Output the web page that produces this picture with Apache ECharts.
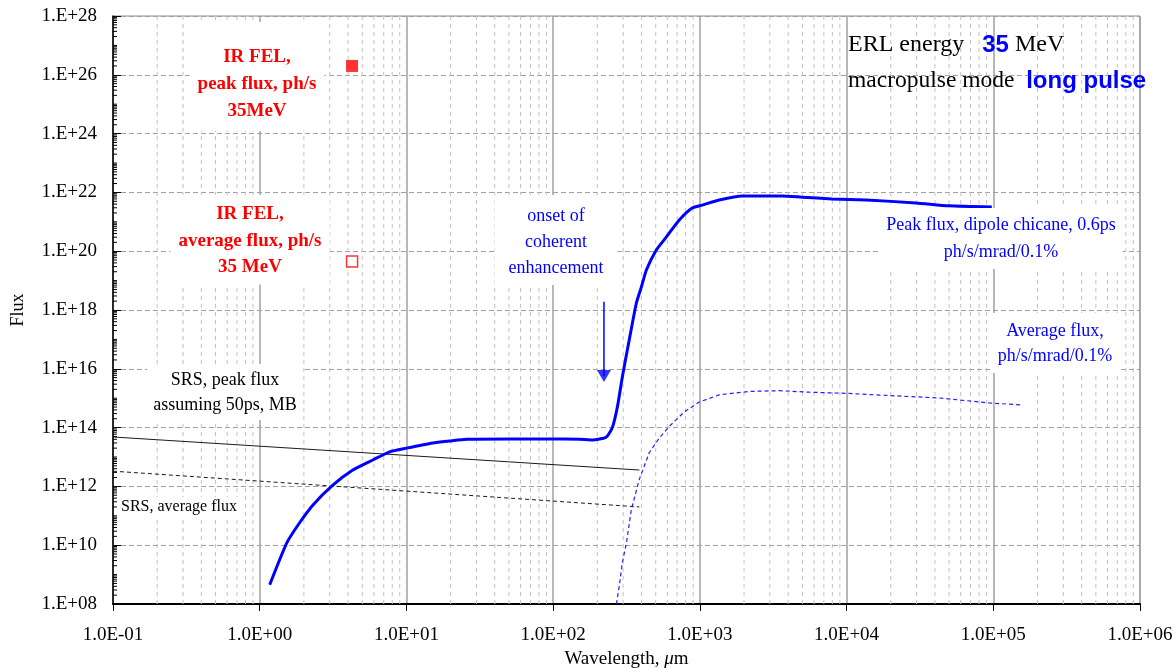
<!DOCTYPE html>
<html>
<head>
<meta charset="utf-8">
<title>ERL flux vs wavelength</title>
<script src="https://cdn.jsdelivr.net/npm/echarts@6/dist/echarts.min.js"></script>
<style>
  html, body { margin: 0; padding: 0; background: #fff; }
  #chart { width: 1176px; height: 668px; }
</style>
</head>
<body>
<div id="chart"></div>
<script>
// wavelength in um, flux in ph/s/mrad/0.1%
let peakWave = [1.17, 1.53, 1.87, 2.30, 3.15, 4.31, 5.89, 7.69, 10.0, 15.1, 19.7, 25.7, 50, 94, 151, 185,
    231, 254, 274, 296, 330, 369, 399, 432, 505, 590, 724, 887, 1038, 1355, 1945, 3640, 4980, 7960,
    13600, 29700, 49900, 97700];
let peakFlux = [4.5e8, 1.2e10, 5.8e10, 2.3e11, 1.1e12, 3.6e12, 7.9e12, 1.5e13, 2.0e13, 3.0e13, 3.5e13, 4.0e13,
    4.1e13, 4.1e13, 4.0e13, 3.8e13, 4.8e13, 1.05e14, 5.0e14, 5.2e15, 9.5e16, 1.7e18, 6.0e18, 2.3e19, 1.1e20,
    3.0e20, 1.15e21, 2.95e21, 3.7e21, 5.5e21, 7.6e21, 7.6e21, 6.9e21, 6.0e21, 5.5e21, 4.4e21, 3.5e21, 3.2e21];

let avgWave = [270, 283, 296, 316, 341, 386, 452, 530, 619, 783, 991, 1355, 2170, 3470, 5560, 10400,
    19500, 42700, 93300, 154000];
let avgFlux = [1.0e8, 4.5e8, 2.5e9, 1.2e10, 1.6e11, 1.7e12, 1.4e13, 4.5e13, 1.1e14, 3.4e14, 7.4e14, 1.3e15,
    1.7e15, 1.8e15, 1.6e15, 1.45e15, 1.23e15, 1.02e15, 6.9e14, 5.9e14];

let srsPeakWave = [0.1, 387];
let srsPeakFlux = [4.8e13, 3.6e12];
let srsAvgWave = [0.1, 387];
let srsAvgFlux = [3.3e12, 2.0e11];

let felWave = [4.26];
let felPeakFlux = [2.0e26];
let felAvgFlux = [4.5e19];

let arrowWave = [222, 222];
let arrowFlux = [1.9e18, 5.7e15];

// axis ticks, as powers of ten
let xTicks = [-1, 0, 1, 2, 3, 4, 5, 6];
let xTickLabels = ['1.0E-01', '1.0E+00', '1.0E+01', '1.0E+02', '1.0E+03', '1.0E+04', '1.0E+05', '1.0E+06'];
let yTicks = [8, 10, 12, 14, 16, 18, 20, 22, 24, 26, 28];
let yTickLabels = ['1.E+08', '1.E+10', '1.E+12', '1.E+14', '1.E+16', '1.E+18', '1.E+20', '1.E+22',
    '1.E+24', '1.E+26', '1.E+28'];

const SERIF = '"Liberation Serif", "Times New Roman", serif';
const SANS = '"Liberation Sans", Arial, sans-serif';
const BLUE = '#0000ff';
const RED = '#ff0000';

let lg = Math.log10;
let pairs = (xs, ys) => xs.map((x, i) => [lg(x), lg(ys[i])]);

// log minor positions for the grid lines / ticks
let minorX = [];
for (let d = -1; d < 6; d++) {
    for (let m = 2; m <= 9; m++) minorX.push([d + lg(m), 8]);
}
let minorY = [];
for (let d = 8; d < 28; d++) {
    for (let m = 1; m <= 9; m++) {
        if (m === 1 && d % 2 === 0) continue;
        minorY.push([-1, d + lg(m)]);
    }
}

let chart = echarts.init(document.getElementById('chart'));

let textBox = (x, y, text, color, font, lineHeight, padding, extra) => ({
    type: 'text', x: x, y: y, z: 100, silent: true,
    style: Object.assign({
        text: text, fill: color, font: font, align: 'center', verticalAlign: 'top',
        lineHeight: lineHeight, backgroundColor: '#fff', padding: padding
    }, extra || {})
});

let option = {
    animation: false,
    grid: {
        left: 113, right: 36, top: 16, bottom: 64,
        outerBoundsMode: 'none', containLabel: false,
        show: true, borderColor: '#8c8c8c', borderWidth: 1
    },
    xAxis: {
        type: 'value', min: -1, max: 6, interval: 1,
        name: 'Wavelength, {i|μ}m', nameLocation: 'middle', nameGap: 44,
        nameTextStyle: {
            color: '#000', fontFamily: SERIF, fontSize: 19,
            rich: { i: { fontStyle: 'italic', fontFamily: SERIF, fontSize: 19, color: '#000' } }
        },
        axisLine: { show: true, onZero: false, lineStyle: { color: '#000', width: 2 } },
        axisTick: { show: true, inside: false, length: 7, lineStyle: { color: '#000' } },
        axisLabel: {
            margin: 22, color: '#000', fontFamily: SERIF, fontSize: 19,
            formatter: v => xTickLabels[xTicks.indexOf(Math.round(v))] || ''
        },
        splitLine: { show: true, lineStyle: { color: '#a0a0a0', width: 1.5 } }
    },
    yAxis: {
        type: 'value', min: 8, max: 28, interval: 2,
        name: 'Flux', nameLocation: 'middle', nameGap: 86,
        nameTextStyle: { color: '#000', fontFamily: SERIF, fontSize: 18 },
        axisLine: { show: true, onZero: false, lineStyle: { color: '#000', width: 1.5 } },
        axisTick: { show: true, inside: true, length: 8, lineStyle: { color: '#000' } },
        axisLabel: {
            margin: 16, color: '#000', fontFamily: SERIF, fontSize: 19,
            formatter: v => yTickLabels[yTicks.indexOf(Math.round(v))] || ''
        },
        splitLine: { show: true, lineStyle: { color: '#a0a0a0', width: 1, type: [5, 3] } }
    },
    series: [
        {
            // dashed minor verticals at 2..9 of every decade
            type: 'custom', silent: true, z: 1, data: minorX,
            renderItem: (params, api) => {
                let a = api.coord([api.value(0), 8]);
                let b = api.coord([api.value(0), 28]);
                return {
                    type: 'line',
                    shape: { x1: a[0], y1: a[1], x2: b[0], y2: b[1] },
                    style: { stroke: '#c2c2c2', lineWidth: 1, lineDash: [4, 4] }
                };
            }
        },
        {
            // minor ticks on the flux axis
            type: 'custom', silent: true, z: 5, data: minorY,
            renderItem: (params, api) => {
                let p = api.coord([-1, api.value(1)]);
                return {
                    type: 'line',
                    shape: { x1: p[0], y1: p[1], x2: p[0] + 4, y2: p[1] },
                    style: { stroke: '#000', lineWidth: 1 }
                };
            }
        },
        {
            name: 'SRS peak', type: 'line', data: pairs(srsPeakWave, srsPeakFlux), symbol: 'none', z: 3,
            lineStyle: { color: '#1a1a1a', width: 1 }
        },
        {
            name: 'SRS average', type: 'line', data: pairs(srsAvgWave, srsAvgFlux), symbol: 'none', z: 3,
            lineStyle: { color: '#1a1a1a', width: 1, type: [4, 3] }
        },
        {
            name: 'Average flux', type: 'line', data: pairs(avgWave, avgFlux), symbol: 'none', z: 4,
            lineStyle: { color: '#2020ff', width: 1.2, type: [4, 3] }
        },
        {
            name: 'Peak flux', type: 'line', data: pairs(peakWave, peakFlux), symbol: 'none', z: 5,
            smooth: 0.2, lineStyle: { color: BLUE, width: 3 }
        },
        {
            name: 'arrow', type: 'line', data: pairs(arrowWave, arrowFlux), symbol: 'none', z: 5,
            lineStyle: { color: BLUE, width: 1.5 }
        },
        {
            name: 'arrow head', type: 'scatter', data: [[lg(arrowWave[1]), lg(arrowFlux[1])]], z: 5,
            symbol: 'triangle', symbolRotate: 180, symbolSize: [14, 12], itemStyle: { color: BLUE }
        },
        {
            name: 'FEL peak', type: 'scatter', data: pairs(felWave, felPeakFlux), z: 6,
            symbol: 'rect', symbolSize: 12, itemStyle: { color: RED }
        },
        {
            name: 'FEL average', type: 'scatter', data: pairs(felWave, felAvgFlux), z: 6,
            symbol: 'rect', symbolSize: 11, itemStyle: { color: '#fff', borderColor: RED, borderWidth: 1.5 }
        }
    ],
    graphic: [
        textBox(257, 22, 'IR FEL,\npeak flux, ph/s\n35MeV', RED, 'bold 19px ' + SERIF, 27, [22, 8, 6, 8]),
        textBox(250, 195, 'IR FEL,\naverage flux, ph/s\n35 MeV', RED, 'bold 19px ' + SERIF, 26.5, [6, 8, 4, 8]),
        textBox(556, 195, 'onset of\ncoherent\nenhancement', BLUE, '18px ' + SERIF, 26, [8, 14, 4, 14]),
        textBox(1001, 208, 'Peak flux, dipole chicane, 0.6ps\nph/s/mrad/0.1%', BLUE, '18px ' + SERIF, 27, [4, 7, 3, 7]),
        textBox(1055, 313, 'Average flux,\nph/s/mrad/0.1%', BLUE, '18px ' + SERIF, 25, [6, 6, 4, 6]),
        textBox(225, 364, 'SRS, peak flux\nassuming 50ps, MB', '#000', '18px ' + SERIF, 25, [4, 6, 2, 6]),
        textBox(119, 497, 'SRS, average flux', '#000', '16px ' + SERIF, 18, [1, 2, 1, 2], { align: 'left' }),
        {
            type: 'text', x: 848, y: 45, z: 100, silent: true,
            style: {
                text: '{a|ERL energy   }{b|35}{a| MeV}', verticalAlign: 'middle',
                rich: {
                    a: { font: '24px ' + SERIF, fill: '#000' },
                    b: { font: 'bold 24px ' + SANS, fill: BLUE }
                }
            }
        },
        {
            type: 'text', x: 848, y: 81, z: 100, silent: true,
            style: {
                text: '{a|macropulse mode  }{b|long pulse}', verticalAlign: 'middle',
                rich: {
                    a: { font: '23.5px ' + SERIF, fill: '#000' },
                    b: { font: 'bold 24px ' + SANS, fill: BLUE }
                }
            }
        }
    ]
};

chart.setOption(option);
</script>
</body>
</html>
